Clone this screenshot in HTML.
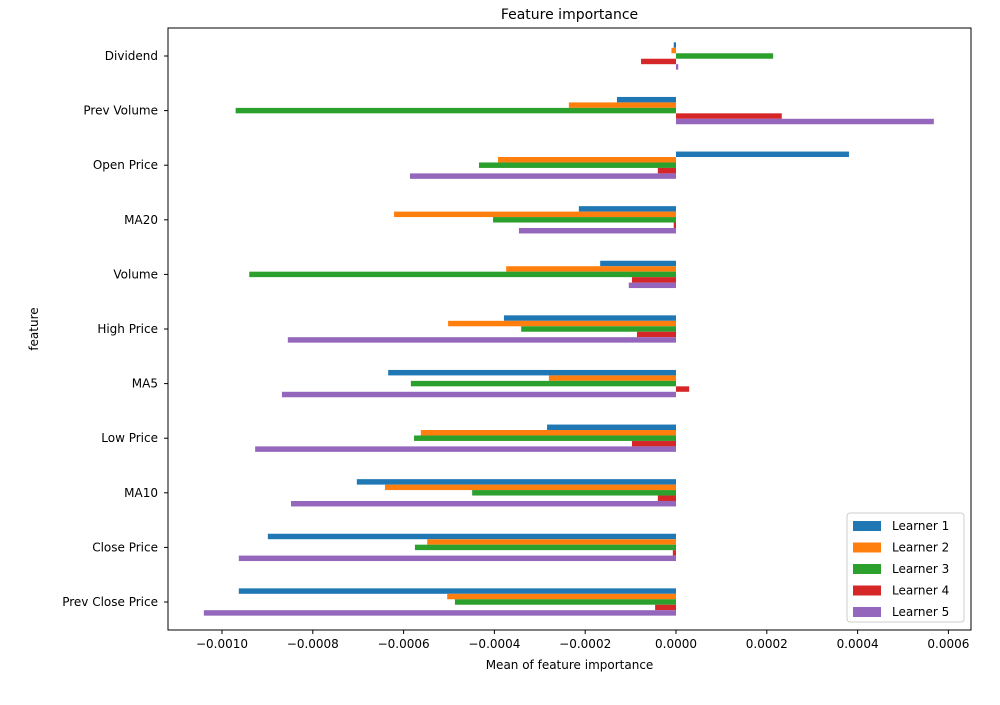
<!DOCTYPE html>
<html><head><meta charset="utf-8"><style>
body{margin:0;background:#fff;font-family:"Liberation Sans","DejaVu Sans",sans-serif}
</style></head><body>
<svg id="chart" width="1000" height="700" font-family="DejaVu Sans, Liberation Sans, sans-serif"></svg>
<script>
const categories=["Dividend","Prev Volume","Open Price","MA20","Volume","High Price","MA5","Low Price","MA10","Close Price","Prev Close Price"];
const learner1=[-0.000005,-0.00013,0.000381,-0.000214,-0.000167,-0.000379,-0.000634,-0.000284,-0.000703,-0.000899,-0.000963];
const learner2=[-0.00001,-0.000236,-0.000392,-0.000621,-0.000374,-0.000502,-0.00028,-0.000562,-0.000641,-0.000548,-0.000504];
const learner3=[0.000214,-0.00097,-0.000434,-0.000403,-0.00094,-0.000341,-0.000584,-0.000577,-0.000449,-0.000575,-0.000487];
const learner4=[-0.000077,0.000233,-0.00004,-0.000005,-0.000097,-0.000086,0.000029,-0.000097,-0.00004,-0.000007,-0.000046];
const learner5=[0.000005,0.000568,-0.000586,-0.000346,-0.000104,-0.000855,-0.000868,-0.000927,-0.000848,-0.000963,-0.00104];
const seriesNames=["Learner 1","Learner 2","Learner 3","Learner 4","Learner 5"];
const xTicks=[-0.0010,-0.0008,-0.0006,-0.0004,-0.0002,0.0000,0.0002,0.0004,0.0006];
const xTickLabels=["−0.0010","−0.0008","−0.0006","−0.0004","−0.0002","0.0000","0.0002","0.0004","0.0006"];
const colors=["#1f77b4","#ff7f0e","#2ca02c","#d62728","#9467bd"];
const series=[learner1,learner2,learner3,learner4,learner5];
const L=168,R=971,T=28,B=630;
const x=v=>676+v*454000;
const y=i=>56+i*54.6;
const svg=document.getElementById('chart');
const NS='http://www.w3.org/2000/svg';
function mk(t,a,txt){const e=document.createElementNS(NS,t);for(const k in a)e.setAttribute(k,a[k]);if(txt!==undefined)e.textContent=txt;svg.appendChild(e);return e;}
const bh=5.46;
series.forEach((s,si)=>{s.forEach((v,i)=>{
 const cy=y(i)-2.5*bh+si*bh;
 const x0=Math.min(x(0),x(v)),w=Math.abs(x(v)-x(0));
 const r=mk('rect',{x:x0,y:cy,width:Math.max(w,0.5),height:bh,fill:colors[si]});
 
 
});});
const frame=mk('rect',{x:L,y:T,width:R-L,height:B-T,fill:'none',stroke:'#000','stroke-width':1});


xTicks.forEach((t,i)=>{
 mk('line',{x1:x(t),x2:x(t),y1:B,y2:B+4,stroke:'#000'});
 const tl=mk('text',{x:x(t),y:B+18,'font-size':12,'text-anchor':'middle'},xTickLabels[i]);
 
 
});
categories.forEach((c,i)=>{
 mk('line',{x1:L-4,x2:L,y1:y(i),y2:y(i),stroke:'#000'});
 const tl=mk('text',{x:L-10,y:y(i)+4,'font-size':12,'text-anchor':'end'},c);
 
 
});
const title=mk('text',{x:(L+R)/2,y:19,'font-size':14,'text-anchor':'middle'},'Feature importance');


const xt=mk('text',{x:(L+R)/2,y:669,'font-size':12,'text-anchor':'middle'},'Mean of feature importance');


const yt=mk('text',{x:38,y:329,'font-size':12,'text-anchor':'middle',transform:'rotate(-90 38 329)'},'feature');


const lg=mk('rect',{x:847,y:513,width:117,height:109,fill:'#fff',stroke:'#ccc',rx:3});


seriesNames.forEach((n,i)=>{
 const yy=525+i*21.5;
 const sw=mk('rect',{x:853,y:yy-4,width:28,height:10,fill:colors[i]});
 
 
 const lt=mk('text',{x:892,y:yy+5,'font-size':12},n);
 
 
});
</script>
</body></html>
